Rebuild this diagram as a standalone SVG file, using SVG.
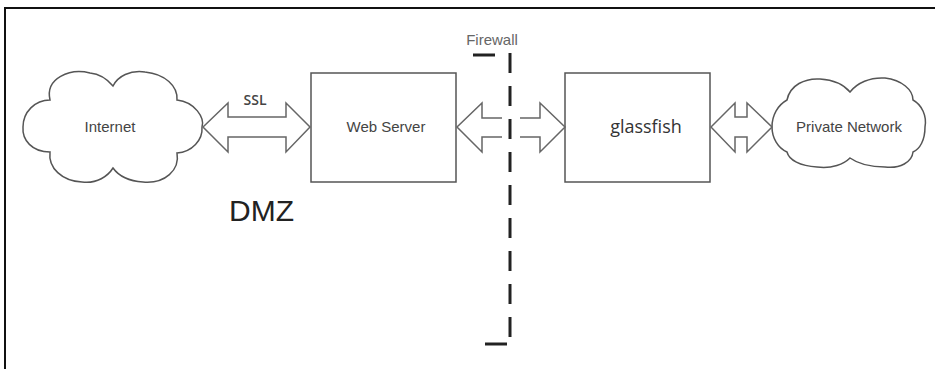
<svg xmlns="http://www.w3.org/2000/svg" width="935" height="369" viewBox="0 0 935 369">
<style>
.shape{fill:#fff;stroke:#555;stroke-width:1.5;stroke-linejoin:miter}
.arrow{fill:#fff;stroke:#666;stroke-width:1.5;stroke-linejoin:miter}
.lbl{font-family:"Liberation Sans",Arial,sans-serif;font-size:15px;fill:#444;text-anchor:middle}
.cal{font-family:"Open Sans",sans-serif;fill:#333;text-anchor:middle}
.fw{fill:none;stroke:#222;stroke-width:3}
</style>
<rect width="935" height="369" fill="#fff"/>
<polyline points="5,369 5,8 935,8" fill="none" stroke="#111" stroke-width="2"/>

<g id="internet">
<path class="shape" d="M50,100 C45,78 70,68 90,73 C100,74 108,80 113,86 C118,76 130,70 145,72 C165,74 178,86 177,100 C195,102 205,118 202,127 C203,140 192,152 177,153 C180,170 165,184 143,182 C128,181 118,175 113,168 C108,176 97,184 82,182 C62,181 48,168 50,152 C32,152 22,140 23,127 C23,112 35,100 50,100 Z"/>
<text class="lbl" x="110" y="132">Internet</text>
</g>

<g id="webserver">
<rect class="shape" x="311" y="73" width="145" height="109"/>
<text class="lbl" x="386" y="132">Web Server</text>
</g>

<g id="glassfish">
<rect class="shape" x="565" y="73" width="145" height="109"/>
<text class="cal" x="646" y="133" font-size="18">glassfish</text>
</g>

<g id="private-network">
<path class="shape" d="M787,100 C790,85 805,78 820,79 C835,80 845,86 850,92 C857,83 870,77 885,78 C902,80 913,90 913,100 C922,105 927,116 925,127 C925,140 920,149 913,152 C912,162 900,169 885,167 C870,167 857,163 850,158 C844,164 832,169 817,167 C800,166 789,160 787,152 C778,148 772,138 772,127 C772,115 778,105 787,100 Z"/>
<text class="lbl" x="849" y="132">Private Network</text>
</g>

<g id="firewall">
<path class="fw" d="M473,55 L495,55"/>
<path class="fw" d="M510,53 L510,338" stroke-dasharray="20 13"/>
<path class="fw" d="M485,344 L507,344"/>
<text class="lbl" x="492" y="45" fill="#666" style="fill:#666">Firewall</text>
</g>

<g id="dmz">
<text x="229" y="221" font-family="Liberation Sans, Arial, sans-serif" font-size="30" fill="#222">DMZ</text>
</g>

<g id="connectors">
<polygon class="arrow" points="203,127 228,103 228,117 286,117 286,103 310,127 286,152 286,137 228,137 228,152"/>
<text class="cal" x="255" y="105" font-size="14" font-weight="600" style="fill:#444">SSL</text>
<path class="arrow" d="M502,118 L482,118 L482,103 L457,127 L482,152 L482,137 L502,137"/>
<path class="arrow" d="M520,118 L540,118 L540,103 L565,127 L540,152 L540,137 L520,137"/>
<polygon class="arrow" points="711,127 735,103 735,117 747,117 747,103 772,127 747,152 747,137 735,137 735,152"/>
</g>
</svg>
